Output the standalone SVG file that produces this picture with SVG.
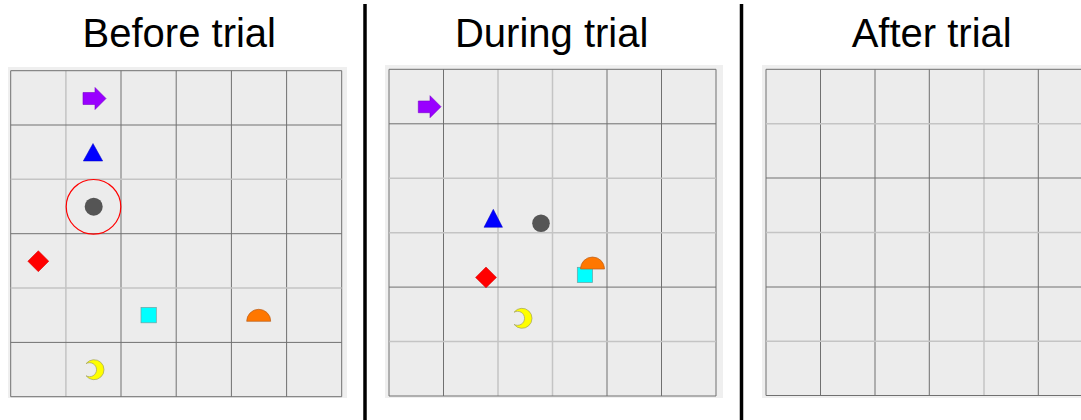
<svg xmlns="http://www.w3.org/2000/svg" width="1081" height="420" viewBox="0 0 1081 420">
<defs>
<style>
.title{font-family:"Liberation Sans",Arial,sans-serif;font-size:40px;fill:#000;text-anchor:middle}
.margin{fill:#efefef}
.board{fill:#ececec}
.d{stroke:#707070;stroke-width:1;fill:none}
.l{stroke:#c4c4c4;stroke-width:1.5;fill:none}
.sep{stroke:#000;stroke-width:3.5}
.arrow{fill:#9900ff;stroke:#7a00cc;stroke-width:0.6}
.tri{fill:#0000ff;stroke:#0000c0;stroke-width:0.5}
.dot{fill:#555555}
.ring{fill:none;stroke:#ff0000;stroke-width:1.2}
.diamond{fill:#ff0000;stroke:#d00000;stroke-width:0.5}
.square{fill:#00ffff;stroke:#70a0a0;stroke-width:0.7}
.semi{fill:#ff7700;stroke:#b86020;stroke-width:0.7}
.moon{fill:#ffff00;stroke:#a0a060;stroke-width:0.7}
</style>
</defs>
<rect width="1081" height="420" fill="#ffffff"/>

<g id="titles">
<text class="title" x="179.3" y="47">Before trial</text>
<text class="title" x="551.7" y="47">During trial</text>
<text class="title" x="931.7" y="47">After trial</text>
</g>

<g id="separators">
<line class="sep" x1="365" y1="4" x2="365" y2="420"/>
<line class="sep" x1="741.5" y1="4" x2="741.5" y2="420"/>
</g>

<g id="panel-before">
<rect class="margin" x="8" y="67" width="339" height="331"/>
<rect class="board" x="10.7" y="70.7" width="331" height="326"/>
<g id="grid-before">
<line class="d" x1="10.7" y1="70.7" x2="10.7" y2="396.7"/>
<line class="l" x1="65.9" y1="70.7" x2="65.9" y2="396.7"/>
<line class="d" x1="121" y1="70.7" x2="121" y2="396.7"/>
<line class="d" x1="176.2" y1="70.7" x2="176.2" y2="396.7"/>
<line class="d" x1="231.4" y1="70.7" x2="231.4" y2="396.7"/>
<line class="d" x1="286.6" y1="70.7" x2="286.6" y2="396.7"/>
<line class="d" x1="341.7" y1="70.7" x2="341.7" y2="396.7"/>
<line class="d" x1="10.7" y1="70.7" x2="341.7" y2="70.7"/>
<line class="d" x1="10.7" y1="125" x2="341.7" y2="125"/>
<line class="l" x1="10.7" y1="179.3" x2="341.7" y2="179.3"/>
<line class="d" x1="10.7" y1="233.7" x2="341.7" y2="233.7"/>
<line class="l" x1="10.7" y1="288" x2="341.7" y2="288"/>
<line class="d" x1="10.7" y1="342.4" x2="341.7" y2="342.4"/>
<line class="d" x1="10.7" y1="396.7" x2="341.7" y2="396.7"/>
</g>
<g id="b-arrow"><polygon class="arrow" points="83,92.5 95,92.5 95,87.5 106,98.5 95,109.5 95,104.5 83,104.5"/></g>
<g id="b-triangle"><polygon class="tri" points="93,143.5 83.3,161 102.7,161"/></g>
<g id="b-dot"><circle class="dot" cx="93.7" cy="206.7" r="9"/></g>
<g id="b-ring"><circle class="ring" cx="93.5" cy="206.8" r="27.3"/></g>
<g id="b-diamond"><polygon class="diamond" points="38.3,250.7 48.8,261.2 38.3,271.7 27.8,261.2"/></g>
<g id="b-square"><rect class="square" x="141" y="307.5" width="15.3" height="15.3"/></g>
<g id="b-semicircle"><path class="semi" d="M246.7 321.3 A12 12 0 0 1 270.7 321.3 Z"/></g>
<g id="b-moon"><path class="moon" d="M86.1 363.6 A10 10 0 1 1 86.1 375.8 A7 7 0 1 0 86.1 363.6 Z"/></g>
</g>

<g id="panel-during">
<rect class="margin" x="385" y="65" width="338" height="333"/>
<rect class="board" x="389" y="69.3" width="327" height="326.7"/>
<g id="grid-during">
<line class="d" x1="389" y1="69.3" x2="389" y2="396"/>
<line class="d" x1="443.5" y1="69.3" x2="443.5" y2="396"/>
<line class="l" x1="498" y1="69.3" x2="498" y2="396"/>
<line class="l" x1="552.5" y1="69.3" x2="552.5" y2="396"/>
<line class="d" x1="607" y1="69.3" x2="607" y2="396"/>
<line class="d" x1="661.5" y1="69.3" x2="661.5" y2="396"/>
<line class="d" x1="716" y1="69.3" x2="716" y2="396"/>
<line class="d" x1="389" y1="69.3" x2="716" y2="69.3"/>
<line class="d" x1="389" y1="123.8" x2="716" y2="123.8"/>
<line class="l" x1="389" y1="178.2" x2="716" y2="178.2"/>
<line class="l" x1="389" y1="232.7" x2="716" y2="232.7"/>
<line class="d" x1="389" y1="287.1" x2="716" y2="287.1"/>
<line class="l" x1="389" y1="341.6" x2="716" y2="341.6"/>
<line class="d" x1="389" y1="396" x2="716" y2="396"/>
</g>
<g id="d-arrow"><polygon class="arrow" points="418.3,101 430,101 430,95.7 441,106.7 430,117.7 430,112.7 418.3,112.7"/></g>
<g id="d-triangle"><polygon class="tri" points="493.3,209.3 484,227.3 502.5,227.3"/></g>
<g id="d-dot"><circle class="dot" cx="541" cy="223.3" r="8.8"/></g>
<g id="d-diamond"><polygon class="diamond" points="486,267 496.5,277.4 486,287.8 475.5,277.4"/></g>
<g id="d-square"><rect class="square" x="577.3" y="267.3" width="15.3" height="15.3"/></g>
<g id="d-semicircle"><path class="semi" d="M580.5 269 A12 12 0 0 1 604.5 269 Z"/></g>
<g id="d-moon"><path class="moon" d="M514.1 312.2 A10 10 0 1 1 514.1 324.4 A7 7 0 1 0 514.1 312.2 Z"/></g>
</g>

<g id="panel-after">
<rect class="margin" x="762" y="65" width="319" height="333"/>
<rect class="board" x="766" y="69.3" width="315" height="326.2"/>
<g id="grid-after">
<line class="d" x1="766" y1="69.3" x2="766" y2="395.5"/>
<line class="d" x1="820.5" y1="69.3" x2="820.5" y2="395.5"/>
<line class="d" x1="875" y1="69.3" x2="875" y2="395.5"/>
<line class="d" x1="929.3" y1="69.3" x2="929.3" y2="395.5"/>
<line class="l" x1="984" y1="69.3" x2="984" y2="395.5"/>
<line class="d" x1="1038.3" y1="69.3" x2="1038.3" y2="395.5"/>
<line class="d" x1="766" y1="69.3" x2="1081" y2="69.3"/>
<line class="l" x1="766" y1="123.7" x2="1081" y2="123.7"/>
<line class="d" x1="766" y1="178" x2="1081" y2="178"/>
<line class="l" x1="766" y1="232.5" x2="1081" y2="232.5"/>
<line class="d" x1="766" y1="287" x2="1081" y2="287"/>
<line class="l" x1="766" y1="341.3" x2="1081" y2="341.3"/>
<line class="d" x1="766" y1="395.5" x2="1081" y2="395.5"/>
</g>
</g>

<g id="connectors"></g>
</svg>
